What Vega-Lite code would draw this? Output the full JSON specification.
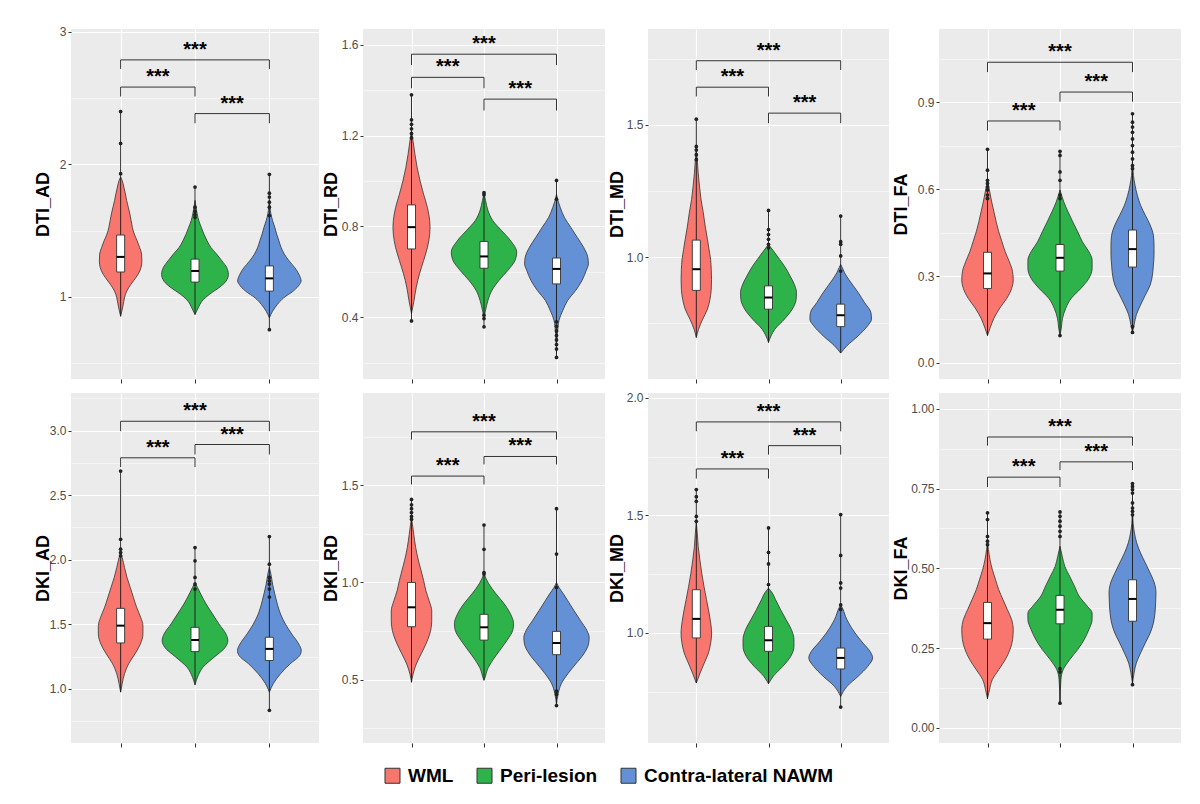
{
  "$schema": "https://vega.github.io/schema/vega-lite/v6.json",
  "background": "white",
  "padding": {"left": 34, "top": 25, "right": 5, "bottom": 5},
  "config": {
    "view": {"fill": "#EBEBEB", "stroke": null},
    "font": "Liberation Sans",
    "axis": {"domain": false, "gridColor": "white", "gridWidth": 1.1, "tickColor": "#333333", "tickSize": 3, "labelColor": "#4D4D4D", "labelFontSize": 12, "labelFont": "Liberation Sans", "labelPadding": 2, "titleFont": "Liberation Sans", "titleFontSize": 18, "titleFontWeight": "bold", "titleColor": "black", "titlePadding": 2},
    "axisX": {"tickSize": 4},
    "legend": {"orient": "bottom", "direction": "horizontal", "symbolType": "square", "symbolSize": 225, "symbolStrokeColor": "#333333", "symbolStrokeWidth": 1, "symbolOpacity": 1, "labelFontSize": 19, "labelFontWeight": "bold", "labelColor": "black", "labelFont": "Liberation Sans", "labelLimit": 0, "columnPadding": 21, "labelOffset": 6, "offset": 18, "layout": {"bottom": {"anchor": "middle"}}}
  },
  "data": {"values": [
    {"p":"DTI_AD","k":"v","c":"WML","y":0.853,"l":1,"r":1},
    {"p":"DTI_AD","k":"v","c":"WML","y":0.916,"l":0.974,"r":1.026},
    {"p":"DTI_AD","k":"v","c":"WML","y":0.967,"l":0.957,"r":1.043},
    {"p":"DTI_AD","k":"v","c":"WML","y":1.018,"l":0.936,"r":1.064},
    {"p":"DTI_AD","k":"v","c":"WML","y":1.068,"l":0.893,"r":1.107},
    {"p":"DTI_AD","k":"v","c":"WML","y":1.119,"l":0.829,"r":1.171},
    {"p":"DTI_AD","k":"v","c":"WML","y":1.17,"l":0.765,"r":1.235},
    {"p":"DTI_AD","k":"v","c":"WML","y":1.22,"l":0.726,"r":1.274},
    {"p":"DTI_AD","k":"v","c":"WML","y":1.271,"l":0.714,"r":1.286},
    {"p":"DTI_AD","k":"v","c":"WML","y":1.322,"l":0.718,"r":1.282},
    {"p":"DTI_AD","k":"v","c":"WML","y":1.372,"l":0.744,"r":1.256},
    {"p":"DTI_AD","k":"v","c":"WML","y":1.423,"l":0.778,"r":1.222},
    {"p":"DTI_AD","k":"v","c":"WML","y":1.473,"l":0.816,"r":1.184},
    {"p":"DTI_AD","k":"v","c":"WML","y":1.524,"l":0.842,"r":1.158},
    {"p":"DTI_AD","k":"v","c":"WML","y":1.575,"l":0.859,"r":1.141},
    {"p":"DTI_AD","k":"v","c":"WML","y":1.625,"l":0.876,"r":1.124},
    {"p":"DTI_AD","k":"v","c":"WML","y":1.676,"l":0.897,"r":1.103},
    {"p":"DTI_AD","k":"v","c":"WML","y":1.727,"l":0.919,"r":1.081},
    {"p":"DTI_AD","k":"v","c":"WML","y":1.777,"l":0.936,"r":1.064},
    {"p":"DTI_AD","k":"v","c":"WML","y":1.828,"l":0.957,"r":1.043},
    {"p":"DTI_AD","k":"v","c":"WML","y":1.878,"l":0.979,"r":1.021},
    {"p":"DTI_AD","k":"v","c":"WML","y":1.904,"l":1,"r":1},
    {"p":"DTI_AD","k":"v","c":"Peri-lesion","y":0.866,"l":2,"r":2},
    {"p":"DTI_AD","k":"v","c":"Peri-lesion","y":0.916,"l":1.957,"r":2.043},
    {"p":"DTI_AD","k":"v","c":"Peri-lesion","y":0.967,"l":1.906,"r":2.094},
    {"p":"DTI_AD","k":"v","c":"Peri-lesion","y":1.018,"l":1.808,"r":2.192},
    {"p":"DTI_AD","k":"v","c":"Peri-lesion","y":1.068,"l":1.679,"r":2.321},
    {"p":"DTI_AD","k":"v","c":"Peri-lesion","y":1.119,"l":1.581,"r":2.419},
    {"p":"DTI_AD","k":"v","c":"Peri-lesion","y":1.17,"l":1.551,"r":2.449},
    {"p":"DTI_AD","k":"v","c":"Peri-lesion","y":1.22,"l":1.573,"r":2.427},
    {"p":"DTI_AD","k":"v","c":"Peri-lesion","y":1.271,"l":1.637,"r":2.363},
    {"p":"DTI_AD","k":"v","c":"Peri-lesion","y":1.322,"l":1.709,"r":2.291},
    {"p":"DTI_AD","k":"v","c":"Peri-lesion","y":1.372,"l":1.786,"r":2.214},
    {"p":"DTI_AD","k":"v","c":"Peri-lesion","y":1.423,"l":1.838,"r":2.162},
    {"p":"DTI_AD","k":"v","c":"Peri-lesion","y":1.473,"l":1.88,"r":2.12},
    {"p":"DTI_AD","k":"v","c":"Peri-lesion","y":1.524,"l":1.915,"r":2.085},
    {"p":"DTI_AD","k":"v","c":"Peri-lesion","y":1.575,"l":1.949,"r":2.051},
    {"p":"DTI_AD","k":"v","c":"Peri-lesion","y":1.625,"l":1.97,"r":2.03},
    {"p":"DTI_AD","k":"v","c":"Peri-lesion","y":1.676,"l":1.987,"r":2.013},
    {"p":"DTI_AD","k":"v","c":"Peri-lesion","y":1.727,"l":2,"r":2},
    {"p":"DTI_AD","k":"v","c":"Contra-lateral NAWM","y":0.841,"l":3,"r":3},
    {"p":"DTI_AD","k":"v","c":"Contra-lateral NAWM","y":0.891,"l":2.957,"r":3.043},
    {"p":"DTI_AD","k":"v","c":"Contra-lateral NAWM","y":0.942,"l":2.893,"r":3.107},
    {"p":"DTI_AD","k":"v","c":"Contra-lateral NAWM","y":0.992,"l":2.808,"r":3.192},
    {"p":"DTI_AD","k":"v","c":"Contra-lateral NAWM","y":1.043,"l":2.679,"r":3.321},
    {"p":"DTI_AD","k":"v","c":"Contra-lateral NAWM","y":1.094,"l":2.594,"r":3.406},
    {"p":"DTI_AD","k":"v","c":"Contra-lateral NAWM","y":1.119,"l":2.573,"r":3.427},
    {"p":"DTI_AD","k":"v","c":"Contra-lateral NAWM","y":1.17,"l":2.603,"r":3.397},
    {"p":"DTI_AD","k":"v","c":"Contra-lateral NAWM","y":1.22,"l":2.658,"r":3.342},
    {"p":"DTI_AD","k":"v","c":"Contra-lateral NAWM","y":1.271,"l":2.735,"r":3.265},
    {"p":"DTI_AD","k":"v","c":"Contra-lateral NAWM","y":1.322,"l":2.799,"r":3.201},
    {"p":"DTI_AD","k":"v","c":"Contra-lateral NAWM","y":1.372,"l":2.842,"r":3.158},
    {"p":"DTI_AD","k":"v","c":"Contra-lateral NAWM","y":1.423,"l":2.872,"r":3.128},
    {"p":"DTI_AD","k":"v","c":"Contra-lateral NAWM","y":1.473,"l":2.902,"r":3.098},
    {"p":"DTI_AD","k":"v","c":"Contra-lateral NAWM","y":1.524,"l":2.927,"r":3.073},
    {"p":"DTI_AD","k":"v","c":"Contra-lateral NAWM","y":1.575,"l":2.957,"r":3.043},
    {"p":"DTI_AD","k":"v","c":"Contra-lateral NAWM","y":1.625,"l":2.979,"r":3.021},
    {"p":"DTI_AD","k":"v","c":"Contra-lateral NAWM","y":1.676,"l":2.991,"r":3.009},
    {"p":"DTI_AD","k":"v","c":"Contra-lateral NAWM","y":1.727,"l":3,"r":3},
    {"p":"DTI_AD","k":"w","x":1,"y":0.853,"y2":2.397},
    {"p":"DTI_AD","k":"w","x":2,"y":0.866,"y2":1.828},
    {"p":"DTI_AD","k":"w","x":3,"y":0.752,"y2":1.924},
    {"p":"DTI_AD","k":"b","x":1,"y":1.187,"y2":1.466},
    {"p":"DTI_AD","k":"b","x":2,"y":1.111,"y2":1.284},
    {"p":"DTI_AD","k":"b","x":3,"y":1.043,"y2":1.233},
    {"p":"DTI_AD","k":"m","x":1,"y":1.301},
    {"p":"DTI_AD","k":"m","x":2,"y":1.195},
    {"p":"DTI_AD","k":"m","x":3,"y":1.139},
    {"p":"DTI_AD","k":"o","x":1,"y":2.397},
    {"p":"DTI_AD","k":"o","x":1,"y":2.157},
    {"p":"DTI_AD","k":"o","x":1,"y":1.929},
    {"p":"DTI_AD","k":"o","x":2,"y":1.828},
    {"p":"DTI_AD","k":"o","x":2,"y":1.676},
    {"p":"DTI_AD","k":"o","x":2,"y":1.645},
    {"p":"DTI_AD","k":"o","x":2,"y":1.62},
    {"p":"DTI_AD","k":"o","x":2,"y":1.6},
    {"p":"DTI_AD","k":"o","x":3,"y":0.752},
    {"p":"DTI_AD","k":"o","x":3,"y":1.924},
    {"p":"DTI_AD","k":"o","x":3,"y":1.782},
    {"p":"DTI_AD","k":"o","x":3,"y":1.752},
    {"p":"DTI_AD","k":"o","x":3,"y":1.714},
    {"p":"DTI_AD","k":"o","x":3,"y":1.676},
    {"p":"DTI_AD","k":"o","x":3,"y":1.613},
    {"p":"DTI_AD","k":"h","x":1,"x2":3,"y":2.787},
    {"p":"DTI_AD","k":"t","x":1,"y":2.719,"y2":2.787},
    {"p":"DTI_AD","k":"t","x":3,"y":2.719,"y2":2.787},
    {"p":"DTI_AD","k":"s","x":2,"y":2.787,"lab":"***"},
    {"p":"DTI_AD","k":"h","x":1,"x2":2,"y":2.582},
    {"p":"DTI_AD","k":"t","x":1,"y":2.511,"y2":2.582},
    {"p":"DTI_AD","k":"t","x":2,"y":2.511,"y2":2.582},
    {"p":"DTI_AD","k":"s","x":1.5,"y":2.582,"lab":"***"},
    {"p":"DTI_AD","k":"h","x":2,"x2":3,"y":2.382},
    {"p":"DTI_AD","k":"t","x":2,"y":2.309,"y2":2.382},
    {"p":"DTI_AD","k":"t","x":3,"y":2.309,"y2":2.382},
    {"p":"DTI_AD","k":"s","x":2.5,"y":2.382,"lab":"***"},

    {"p":"DTI_RD","k":"v","c":"WML","y":0.416,"l":1,"r":1},
    {"p":"DTI_RD","k":"v","c":"WML","y":0.474,"l":0.965,"r":1.035},
    {"p":"DTI_RD","k":"v","c":"WML","y":0.533,"l":0.934,"r":1.066},
    {"p":"DTI_RD","k":"v","c":"WML","y":0.591,"l":0.89,"r":1.11},
    {"p":"DTI_RD","k":"v","c":"WML","y":0.65,"l":0.833,"r":1.167},
    {"p":"DTI_RD","k":"v","c":"WML","y":0.708,"l":0.78,"r":1.22},
    {"p":"DTI_RD","k":"v","c":"WML","y":0.766,"l":0.749,"r":1.251},
    {"p":"DTI_RD","k":"v","c":"WML","y":0.796,"l":0.744,"r":1.256},
    {"p":"DTI_RD","k":"v","c":"WML","y":0.825,"l":0.749,"r":1.251},
    {"p":"DTI_RD","k":"v","c":"WML","y":0.883,"l":0.78,"r":1.22},
    {"p":"DTI_RD","k":"v","c":"WML","y":0.942,"l":0.833,"r":1.167},
    {"p":"DTI_RD","k":"v","c":"WML","y":1.0,"l":0.881,"r":1.119},
    {"p":"DTI_RD","k":"v","c":"WML","y":1.058,"l":0.921,"r":1.079},
    {"p":"DTI_RD","k":"v","c":"WML","y":1.117,"l":0.952,"r":1.048},
    {"p":"DTI_RD","k":"v","c":"WML","y":1.175,"l":0.978,"r":1.022},
    {"p":"DTI_RD","k":"v","c":"WML","y":1.204,"l":0.991,"r":1.009},
    {"p":"DTI_RD","k":"v","c":"WML","y":1.219,"l":1,"r":1},
    {"p":"DTI_RD","k":"v","c":"Peri-lesion","y":0.4,"l":2,"r":2},
    {"p":"DTI_RD","k":"v","c":"Peri-lesion","y":0.432,"l":1.978,"r":2.022},
    {"p":"DTI_RD","k":"v","c":"Peri-lesion","y":0.475,"l":1.945,"r":2.055},
    {"p":"DTI_RD","k":"v","c":"Peri-lesion","y":0.519,"l":1.89,"r":2.11},
    {"p":"DTI_RD","k":"v","c":"Peri-lesion","y":0.563,"l":1.791,"r":2.209},
    {"p":"DTI_RD","k":"v","c":"Peri-lesion","y":0.607,"l":1.67,"r":2.33},
    {"p":"DTI_RD","k":"v","c":"Peri-lesion","y":0.651,"l":1.571,"r":2.429},
    {"p":"DTI_RD","k":"v","c":"Peri-lesion","y":0.687,"l":1.549,"r":2.451},
    {"p":"DTI_RD","k":"v","c":"Peri-lesion","y":0.739,"l":1.637,"r":2.363},
    {"p":"DTI_RD","k":"v","c":"Peri-lesion","y":0.782,"l":1.758,"r":2.242},
    {"p":"DTI_RD","k":"v","c":"Peri-lesion","y":0.826,"l":1.879,"r":2.121},
    {"p":"DTI_RD","k":"v","c":"Peri-lesion","y":0.87,"l":1.945,"r":2.055},
    {"p":"DTI_RD","k":"v","c":"Peri-lesion","y":0.914,"l":1.978,"r":2.022},
    {"p":"DTI_RD","k":"v","c":"Peri-lesion","y":0.945,"l":2,"r":2},
    {"p":"DTI_RD","k":"v","c":"Contra-lateral NAWM","y":0.241,"l":3,"r":3},
    {"p":"DTI_RD","k":"v","c":"Contra-lateral NAWM","y":0.328,"l":2.987,"r":3.013},
    {"p":"DTI_RD","k":"v","c":"Contra-lateral NAWM","y":0.387,"l":2.965,"r":3.035},
    {"p":"DTI_RD","k":"v","c":"Contra-lateral NAWM","y":0.431,"l":2.912,"r":3.088},
    {"p":"DTI_RD","k":"v","c":"Contra-lateral NAWM","y":0.474,"l":2.846,"r":3.154},
    {"p":"DTI_RD","k":"v","c":"Contra-lateral NAWM","y":0.518,"l":2.736,"r":3.264},
    {"p":"DTI_RD","k":"v","c":"Contra-lateral NAWM","y":0.562,"l":2.648,"r":3.352},
    {"p":"DTI_RD","k":"v","c":"Contra-lateral NAWM","y":0.606,"l":2.59,"r":3.41},
    {"p":"DTI_RD","k":"v","c":"Contra-lateral NAWM","y":0.635,"l":2.56,"r":3.44},
    {"p":"DTI_RD","k":"v","c":"Contra-lateral NAWM","y":0.664,"l":2.568,"r":3.432},
    {"p":"DTI_RD","k":"v","c":"Contra-lateral NAWM","y":0.708,"l":2.626,"r":3.374},
    {"p":"DTI_RD","k":"v","c":"Contra-lateral NAWM","y":0.752,"l":2.714,"r":3.286},
    {"p":"DTI_RD","k":"v","c":"Contra-lateral NAWM","y":0.796,"l":2.802,"r":3.198},
    {"p":"DTI_RD","k":"v","c":"Contra-lateral NAWM","y":0.839,"l":2.89,"r":3.11},
    {"p":"DTI_RD","k":"v","c":"Contra-lateral NAWM","y":0.883,"l":2.947,"r":3.053},
    {"p":"DTI_RD","k":"v","c":"Contra-lateral NAWM","y":0.912,"l":2.978,"r":3.022},
    {"p":"DTI_RD","k":"v","c":"Contra-lateral NAWM","y":0.942,"l":3,"r":3},
    {"p":"DTI_RD","k":"w","x":1,"y":0.384,"y2":1.38},
    {"p":"DTI_RD","k":"w","x":2,"y":0.358,"y2":0.949},
    {"p":"DTI_RD","k":"w","x":3,"y":0.223,"y2":1.003},
    {"p":"DTI_RD","k":"b","x":1,"y":0.701,"y2":0.895},
    {"p":"DTI_RD","k":"b","x":2,"y":0.616,"y2":0.734},
    {"p":"DTI_RD","k":"b","x":3,"y":0.547,"y2":0.661},
    {"p":"DTI_RD","k":"m","x":1,"y":0.797},
    {"p":"DTI_RD","k":"m","x":2,"y":0.668},
    {"p":"DTI_RD","k":"m","x":3,"y":0.613},
    {"p":"DTI_RD","k":"o","x":1,"y":1.38},
    {"p":"DTI_RD","k":"o","x":1,"y":1.27},
    {"p":"DTI_RD","k":"o","x":1,"y":1.25},
    {"p":"DTI_RD","k":"o","x":1,"y":1.23},
    {"p":"DTI_RD","k":"o","x":1,"y":1.21},
    {"p":"DTI_RD","k":"o","x":1,"y":1.19},
    {"p":"DTI_RD","k":"o","x":1,"y":0.384},
    {"p":"DTI_RD","k":"o","x":2,"y":0.949},
    {"p":"DTI_RD","k":"o","x":2,"y":0.94},
    {"p":"DTI_RD","k":"o","x":2,"y":0.409},
    {"p":"DTI_RD","k":"o","x":2,"y":0.394},
    {"p":"DTI_RD","k":"o","x":2,"y":0.358},
    {"p":"DTI_RD","k":"o","x":3,"y":1.003},
    {"p":"DTI_RD","k":"o","x":3,"y":0.92},
    {"p":"DTI_RD","k":"o","x":3,"y":0.38},
    {"p":"DTI_RD","k":"o","x":3,"y":0.36},
    {"p":"DTI_RD","k":"o","x":3,"y":0.34},
    {"p":"DTI_RD","k":"o","x":3,"y":0.32},
    {"p":"DTI_RD","k":"o","x":3,"y":0.3},
    {"p":"DTI_RD","k":"o","x":3,"y":0.28},
    {"p":"DTI_RD","k":"o","x":3,"y":0.26},
    {"p":"DTI_RD","k":"o","x":3,"y":0.223},
    {"p":"DTI_RD","k":"h","x":1,"x2":3,"y":1.559},
    {"p":"DTI_RD","k":"t","x":1,"y":1.511,"y2":1.559},
    {"p":"DTI_RD","k":"t","x":3,"y":1.511,"y2":1.559},
    {"p":"DTI_RD","k":"s","x":2,"y":1.559,"lab":"***"},
    {"p":"DTI_RD","k":"h","x":1,"x2":2,"y":1.457},
    {"p":"DTI_RD","k":"t","x":1,"y":1.409,"y2":1.457},
    {"p":"DTI_RD","k":"t","x":2,"y":1.409,"y2":1.457},
    {"p":"DTI_RD","k":"s","x":1.5,"y":1.457,"lab":"***"},
    {"p":"DTI_RD","k":"h","x":2,"x2":3,"y":1.361},
    {"p":"DTI_RD","k":"t","x":2,"y":1.311,"y2":1.361},
    {"p":"DTI_RD","k":"t","x":3,"y":1.311,"y2":1.361},
    {"p":"DTI_RD","k":"s","x":2.5,"y":1.361,"lab":"***"},

    {"p":"DTI_MD","k":"v","c":"WML","y":0.696,"l":1,"r":1},
    {"p":"DTI_MD","k":"v","c":"WML","y":0.727,"l":0.969,"r":1.031},
    {"p":"DTI_MD","k":"v","c":"WML","y":0.765,"l":0.912,"r":1.088},
    {"p":"DTI_MD","k":"v","c":"WML","y":0.803,"l":0.846,"r":1.154},
    {"p":"DTI_MD","k":"v","c":"WML","y":0.84,"l":0.811,"r":1.189},
    {"p":"DTI_MD","k":"v","c":"WML","y":0.878,"l":0.793,"r":1.207},
    {"p":"DTI_MD","k":"v","c":"WML","y":0.916,"l":0.789,"r":1.211},
    {"p":"DTI_MD","k":"v","c":"WML","y":0.954,"l":0.793,"r":1.207},
    {"p":"DTI_MD","k":"v","c":"WML","y":0.991,"l":0.802,"r":1.198},
    {"p":"DTI_MD","k":"v","c":"WML","y":1.029,"l":0.824,"r":1.176},
    {"p":"DTI_MD","k":"v","c":"WML","y":1.067,"l":0.846,"r":1.154},
    {"p":"DTI_MD","k":"v","c":"WML","y":1.117,"l":0.877,"r":1.123},
    {"p":"DTI_MD","k":"v","c":"WML","y":1.167,"l":0.903,"r":1.097},
    {"p":"DTI_MD","k":"v","c":"WML","y":1.217,"l":0.934,"r":1.066},
    {"p":"DTI_MD","k":"v","c":"WML","y":1.268,"l":0.956,"r":1.044},
    {"p":"DTI_MD","k":"v","c":"WML","y":1.318,"l":0.974,"r":1.026},
    {"p":"DTI_MD","k":"v","c":"WML","y":1.368,"l":0.987,"r":1.013},
    {"p":"DTI_MD","k":"v","c":"WML","y":1.406,"l":1,"r":1},
    {"p":"DTI_MD","k":"v","c":"Peri-lesion","y":0.677,"l":2,"r":2},
    {"p":"DTI_MD","k":"v","c":"Peri-lesion","y":0.702,"l":1.965,"r":2.035},
    {"p":"DTI_MD","k":"v","c":"Peri-lesion","y":0.727,"l":1.912,"r":2.088},
    {"p":"DTI_MD","k":"v","c":"Peri-lesion","y":0.765,"l":1.78,"r":2.22},
    {"p":"DTI_MD","k":"v","c":"Peri-lesion","y":0.803,"l":1.67,"r":2.33},
    {"p":"DTI_MD","k":"v","c":"Peri-lesion","y":0.84,"l":1.617,"r":2.383},
    {"p":"DTI_MD","k":"v","c":"Peri-lesion","y":0.866,"l":1.612,"r":2.388},
    {"p":"DTI_MD","k":"v","c":"Peri-lesion","y":0.891,"l":1.634,"r":2.366},
    {"p":"DTI_MD","k":"v","c":"Peri-lesion","y":0.928,"l":1.7,"r":2.3},
    {"p":"DTI_MD","k":"v","c":"Peri-lesion","y":0.966,"l":1.78,"r":2.22},
    {"p":"DTI_MD","k":"v","c":"Peri-lesion","y":0.991,"l":1.846,"r":2.154},
    {"p":"DTI_MD","k":"v","c":"Peri-lesion","y":1.016,"l":1.912,"r":2.088},
    {"p":"DTI_MD","k":"v","c":"Peri-lesion","y":1.035,"l":1.965,"r":2.035},
    {"p":"DTI_MD","k":"v","c":"Peri-lesion","y":1.048,"l":2,"r":2},
    {"p":"DTI_MD","k":"v","c":"Contra-lateral NAWM","y":0.637,"l":3,"r":3},
    {"p":"DTI_MD","k":"v","c":"Contra-lateral NAWM","y":0.665,"l":2.912,"r":3.088},
    {"p":"DTI_MD","k":"v","c":"Contra-lateral NAWM","y":0.702,"l":2.758,"r":3.242},
    {"p":"DTI_MD","k":"v","c":"Contra-lateral NAWM","y":0.74,"l":2.626,"r":3.374},
    {"p":"DTI_MD","k":"v","c":"Contra-lateral NAWM","y":0.765,"l":2.573,"r":3.427},
    {"p":"DTI_MD","k":"v","c":"Contra-lateral NAWM","y":0.79,"l":2.581,"r":3.419},
    {"p":"DTI_MD","k":"v","c":"Contra-lateral NAWM","y":0.828,"l":2.67,"r":3.33},
    {"p":"DTI_MD","k":"v","c":"Contra-lateral NAWM","y":0.866,"l":2.758,"r":3.242},
    {"p":"DTI_MD","k":"v","c":"Contra-lateral NAWM","y":0.891,"l":2.824,"r":3.176},
    {"p":"DTI_MD","k":"v","c":"Contra-lateral NAWM","y":0.916,"l":2.89,"r":3.11},
    {"p":"DTI_MD","k":"v","c":"Contra-lateral NAWM","y":0.941,"l":2.947,"r":3.053},
    {"p":"DTI_MD","k":"v","c":"Contra-lateral NAWM","y":0.96,"l":2.978,"r":3.022},
    {"p":"DTI_MD","k":"v","c":"Contra-lateral NAWM","y":0.972,"l":3,"r":3},
    {"p":"DTI_MD","k":"w","x":1,"y":0.696,"y2":1.521},
    {"p":"DTI_MD","k":"w","x":2,"y":0.677,"y2":1.176},
    {"p":"DTI_MD","k":"w","x":3,"y":0.637,"y2":1.155},
    {"p":"DTI_MD","k":"b","x":1,"y":0.874,"y2":1.064},
    {"p":"DTI_MD","k":"b","x":2,"y":0.803,"y2":0.891},
    {"p":"DTI_MD","k":"b","x":3,"y":0.737,"y2":0.822},
    {"p":"DTI_MD","k":"m","x":1,"y":0.954},
    {"p":"DTI_MD","k":"m","x":2,"y":0.847},
    {"p":"DTI_MD","k":"m","x":3,"y":0.78},
    {"p":"DTI_MD","k":"o","x":1,"y":1.521},
    {"p":"DTI_MD","k":"o","x":1,"y":1.418},
    {"p":"DTI_MD","k":"o","x":1,"y":1.405},
    {"p":"DTI_MD","k":"o","x":1,"y":1.387},
    {"p":"DTI_MD","k":"o","x":1,"y":1.368},
    {"p":"DTI_MD","k":"o","x":2,"y":1.176},
    {"p":"DTI_MD","k":"o","x":2,"y":1.104},
    {"p":"DTI_MD","k":"o","x":2,"y":1.085},
    {"p":"DTI_MD","k":"o","x":2,"y":1.067},
    {"p":"DTI_MD","k":"o","x":2,"y":1.048},
    {"p":"DTI_MD","k":"o","x":2,"y":1.035},
    {"p":"DTI_MD","k":"o","x":3,"y":1.155},
    {"p":"DTI_MD","k":"o","x":3,"y":1.058},
    {"p":"DTI_MD","k":"o","x":3,"y":1.048},
    {"p":"DTI_MD","k":"o","x":3,"y":1.004},
    {"p":"DTI_MD","k":"o","x":3,"y":0.947},
    {"p":"DTI_MD","k":"h","x":1,"x2":3,"y":1.742},
    {"p":"DTI_MD","k":"t","x":1,"y":1.707,"y2":1.742},
    {"p":"DTI_MD","k":"t","x":3,"y":1.707,"y2":1.742},
    {"p":"DTI_MD","k":"s","x":2,"y":1.742,"lab":"***"},
    {"p":"DTI_MD","k":"h","x":1,"x2":2,"y":1.642},
    {"p":"DTI_MD","k":"t","x":1,"y":1.607,"y2":1.642},
    {"p":"DTI_MD","k":"t","x":2,"y":1.607,"y2":1.642},
    {"p":"DTI_MD","k":"s","x":1.5,"y":1.642,"lab":"***"},
    {"p":"DTI_MD","k":"h","x":2,"x2":3,"y":1.544},
    {"p":"DTI_MD","k":"t","x":2,"y":1.506,"y2":1.544},
    {"p":"DTI_MD","k":"t","x":3,"y":1.506,"y2":1.544},
    {"p":"DTI_MD","k":"s","x":2.5,"y":1.544,"lab":"***"},

    {"p":"DTI_FA","k":"v","c":"WML","y":0.094,"l":1,"r":1},
    {"p":"DTI_FA","k":"v","c":"WML","y":0.12,"l":0.965,"r":1.035},
    {"p":"DTI_FA","k":"v","c":"WML","y":0.154,"l":0.911,"r":1.089},
    {"p":"DTI_FA","k":"v","c":"WML","y":0.189,"l":0.831,"r":1.169},
    {"p":"DTI_FA","k":"v","c":"WML","y":0.223,"l":0.734,"r":1.266},
    {"p":"DTI_FA","k":"v","c":"WML","y":0.257,"l":0.667,"r":1.333},
    {"p":"DTI_FA","k":"v","c":"WML","y":0.286,"l":0.645,"r":1.355},
    {"p":"DTI_FA","k":"v","c":"WML","y":0.315,"l":0.654,"r":1.346},
    {"p":"DTI_FA","k":"v","c":"WML","y":0.349,"l":0.698,"r":1.302},
    {"p":"DTI_FA","k":"v","c":"WML","y":0.384,"l":0.756,"r":1.244},
    {"p":"DTI_FA","k":"v","c":"WML","y":0.418,"l":0.8,"r":1.2},
    {"p":"DTI_FA","k":"v","c":"WML","y":0.453,"l":0.845,"r":1.155},
    {"p":"DTI_FA","k":"v","c":"WML","y":0.487,"l":0.88,"r":1.12},
    {"p":"DTI_FA","k":"v","c":"WML","y":0.522,"l":0.911,"r":1.089},
    {"p":"DTI_FA","k":"v","c":"WML","y":0.556,"l":0.942,"r":1.058},
    {"p":"DTI_FA","k":"v","c":"WML","y":0.591,"l":0.969,"r":1.031},
    {"p":"DTI_FA","k":"v","c":"WML","y":0.614,"l":0.987,"r":1.013},
    {"p":"DTI_FA","k":"v","c":"WML","y":0.631,"l":1,"r":1},
    {"p":"DTI_FA","k":"v","c":"Peri-lesion","y":0.094,"l":2,"r":2},
    {"p":"DTI_FA","k":"v","c":"Peri-lesion","y":0.12,"l":1.982,"r":2.018},
    {"p":"DTI_FA","k":"v","c":"Peri-lesion","y":0.154,"l":1.965,"r":2.035},
    {"p":"DTI_FA","k":"v","c":"Peri-lesion","y":0.189,"l":1.92,"r":2.08},
    {"p":"DTI_FA","k":"v","c":"Peri-lesion","y":0.223,"l":1.845,"r":2.155},
    {"p":"DTI_FA","k":"v","c":"Peri-lesion","y":0.257,"l":1.712,"r":2.288},
    {"p":"DTI_FA","k":"v","c":"Peri-lesion","y":0.292,"l":1.601,"r":2.399},
    {"p":"DTI_FA","k":"v","c":"Peri-lesion","y":0.326,"l":1.557,"r":2.443},
    {"p":"DTI_FA","k":"v","c":"Peri-lesion","y":0.355,"l":1.557,"r":2.443},
    {"p":"DTI_FA","k":"v","c":"Peri-lesion","y":0.384,"l":1.601,"r":2.399},
    {"p":"DTI_FA","k":"v","c":"Peri-lesion","y":0.418,"l":1.69,"r":2.31},
    {"p":"DTI_FA","k":"v","c":"Peri-lesion","y":0.453,"l":1.756,"r":2.244},
    {"p":"DTI_FA","k":"v","c":"Peri-lesion","y":0.487,"l":1.823,"r":2.177},
    {"p":"DTI_FA","k":"v","c":"Peri-lesion","y":0.522,"l":1.889,"r":2.111},
    {"p":"DTI_FA","k":"v","c":"Peri-lesion","y":0.556,"l":1.947,"r":2.053},
    {"p":"DTI_FA","k":"v","c":"Peri-lesion","y":0.579,"l":1.978,"r":2.022},
    {"p":"DTI_FA","k":"v","c":"Peri-lesion","y":0.597,"l":2,"r":2},
    {"p":"DTI_FA","k":"v","c":"Contra-lateral NAWM","y":0.105,"l":3,"r":3},
    {"p":"DTI_FA","k":"v","c":"Contra-lateral NAWM","y":0.131,"l":2.978,"r":3.022},
    {"p":"DTI_FA","k":"v","c":"Contra-lateral NAWM","y":0.166,"l":2.947,"r":3.053},
    {"p":"DTI_FA","k":"v","c":"Contra-lateral NAWM","y":0.2,"l":2.889,"r":3.111},
    {"p":"DTI_FA","k":"v","c":"Contra-lateral NAWM","y":0.234,"l":2.823,"r":3.177},
    {"p":"DTI_FA","k":"v","c":"Contra-lateral NAWM","y":0.269,"l":2.756,"r":3.244},
    {"p":"DTI_FA","k":"v","c":"Contra-lateral NAWM","y":0.303,"l":2.725,"r":3.275},
    {"p":"DTI_FA","k":"v","c":"Contra-lateral NAWM","y":0.338,"l":2.712,"r":3.288},
    {"p":"DTI_FA","k":"v","c":"Contra-lateral NAWM","y":0.372,"l":2.703,"r":3.297},
    {"p":"DTI_FA","k":"v","c":"Contra-lateral NAWM","y":0.407,"l":2.703,"r":3.297},
    {"p":"DTI_FA","k":"v","c":"Contra-lateral NAWM","y":0.441,"l":2.712,"r":3.288},
    {"p":"DTI_FA","k":"v","c":"Contra-lateral NAWM","y":0.476,"l":2.756,"r":3.244},
    {"p":"DTI_FA","k":"v","c":"Contra-lateral NAWM","y":0.51,"l":2.823,"r":3.177},
    {"p":"DTI_FA","k":"v","c":"Contra-lateral NAWM","y":0.545,"l":2.889,"r":3.111},
    {"p":"DTI_FA","k":"v","c":"Contra-lateral NAWM","y":0.579,"l":2.933,"r":3.067},
    {"p":"DTI_FA","k":"v","c":"Contra-lateral NAWM","y":0.614,"l":2.965,"r":3.035},
    {"p":"DTI_FA","k":"v","c":"Contra-lateral NAWM","y":0.648,"l":2.987,"r":3.013},
    {"p":"DTI_FA","k":"v","c":"Contra-lateral NAWM","y":0.68,"l":2.995,"r":3.005},
    {"p":"DTI_FA","k":"v","c":"Contra-lateral NAWM","y":0.7,"l":3,"r":3},
    {"p":"DTI_FA","k":"w","x":1,"y":0.094,"y2":0.738},
    {"p":"DTI_FA","k":"w","x":2,"y":0.094,"y2":0.731},
    {"p":"DTI_FA","k":"w","x":3,"y":0.105,"y2":0.861},
    {"p":"DTI_FA","k":"b","x":1,"y":0.257,"y2":0.382},
    {"p":"DTI_FA","k":"b","x":2,"y":0.317,"y2":0.409},
    {"p":"DTI_FA","k":"b","x":3,"y":0.331,"y2":0.459},
    {"p":"DTI_FA","k":"m","x":1,"y":0.309},
    {"p":"DTI_FA","k":"m","x":2,"y":0.363},
    {"p":"DTI_FA","k":"m","x":3,"y":0.393},
    {"p":"DTI_FA","k":"o","x":1,"y":0.738},
    {"p":"DTI_FA","k":"o","x":1,"y":0.666},
    {"p":"DTI_FA","k":"o","x":1,"y":0.631},
    {"p":"DTI_FA","k":"o","x":1,"y":0.62},
    {"p":"DTI_FA","k":"o","x":1,"y":0.608},
    {"p":"DTI_FA","k":"o","x":1,"y":0.597},
    {"p":"DTI_FA","k":"o","x":1,"y":0.58},
    {"p":"DTI_FA","k":"o","x":1,"y":0.568},
    {"p":"DTI_FA","k":"o","x":2,"y":0.731},
    {"p":"DTI_FA","k":"o","x":2,"y":0.717},
    {"p":"DTI_FA","k":"o","x":2,"y":0.66},
    {"p":"DTI_FA","k":"o","x":2,"y":0.631},
    {"p":"DTI_FA","k":"o","x":2,"y":0.58},
    {"p":"DTI_FA","k":"o","x":2,"y":0.568},
    {"p":"DTI_FA","k":"o","x":2,"y":0.094},
    {"p":"DTI_FA","k":"o","x":3,"y":0.861},
    {"p":"DTI_FA","k":"o","x":3,"y":0.832},
    {"p":"DTI_FA","k":"o","x":3,"y":0.815},
    {"p":"DTI_FA","k":"o","x":3,"y":0.797},
    {"p":"DTI_FA","k":"o","x":3,"y":0.774},
    {"p":"DTI_FA","k":"o","x":3,"y":0.751},
    {"p":"DTI_FA","k":"o","x":3,"y":0.728},
    {"p":"DTI_FA","k":"o","x":3,"y":0.705},
    {"p":"DTI_FA","k":"o","x":3,"y":0.682},
    {"p":"DTI_FA","k":"o","x":3,"y":0.671},
    {"p":"DTI_FA","k":"o","x":3,"y":0.125},
    {"p":"DTI_FA","k":"o","x":3,"y":0.105},
    {"p":"DTI_FA","k":"h","x":1,"x2":3,"y":1.039},
    {"p":"DTI_FA","k":"t","x":1,"y":1.005,"y2":1.039},
    {"p":"DTI_FA","k":"t","x":3,"y":1.005,"y2":1.039},
    {"p":"DTI_FA","k":"s","x":2,"y":1.039,"lab":"***"},
    {"p":"DTI_FA","k":"h","x":2,"x2":3,"y":0.936},
    {"p":"DTI_FA","k":"t","x":2,"y":0.903,"y2":0.936},
    {"p":"DTI_FA","k":"t","x":3,"y":0.903,"y2":0.936},
    {"p":"DTI_FA","k":"s","x":2.5,"y":0.936,"lab":"***"},
    {"p":"DTI_FA","k":"h","x":1,"x2":2,"y":0.836},
    {"p":"DTI_FA","k":"t","x":1,"y":0.803,"y2":0.836},
    {"p":"DTI_FA","k":"t","x":2,"y":0.803,"y2":0.836},
    {"p":"DTI_FA","k":"s","x":1.5,"y":0.836,"lab":"***"},

    {"p":"DKI_AD","k":"v","c":"WML","y":0.974,"l":1,"r":1},
    {"p":"DKI_AD","k":"v","c":"WML","y":1.039,"l":0.979,"r":1.021},
    {"p":"DKI_AD","k":"v","c":"WML","y":1.116,"l":0.948,"r":1.052},
    {"p":"DKI_AD","k":"v","c":"WML","y":1.193,"l":0.893,"r":1.107},
    {"p":"DKI_AD","k":"v","c":"WML","y":1.27,"l":0.807,"r":1.193},
    {"p":"DKI_AD","k":"v","c":"WML","y":1.347,"l":0.734,"r":1.266},
    {"p":"DKI_AD","k":"v","c":"WML","y":1.425,"l":0.7,"r":1.3},
    {"p":"DKI_AD","k":"v","c":"WML","y":1.489,"l":0.7,"r":1.3},
    {"p":"DKI_AD","k":"v","c":"WML","y":1.553,"l":0.73,"r":1.27},
    {"p":"DKI_AD","k":"v","c":"WML","y":1.631,"l":0.785,"r":1.215},
    {"p":"DKI_AD","k":"v","c":"WML","y":1.708,"l":0.828,"r":1.172},
    {"p":"DKI_AD","k":"v","c":"WML","y":1.785,"l":0.871,"r":1.129},
    {"p":"DKI_AD","k":"v","c":"WML","y":1.862,"l":0.914,"r":1.086},
    {"p":"DKI_AD","k":"v","c":"WML","y":1.94,"l":0.948,"r":1.052},
    {"p":"DKI_AD","k":"v","c":"WML","y":2.017,"l":0.979,"r":1.021},
    {"p":"DKI_AD","k":"v","c":"WML","y":2.055,"l":1,"r":1},
    {"p":"DKI_AD","k":"v","c":"Peri-lesion","y":1.031,"l":2,"r":2},
    {"p":"DKI_AD","k":"v","c":"Peri-lesion","y":1.09,"l":1.966,"r":2.034},
    {"p":"DKI_AD","k":"v","c":"Peri-lesion","y":1.167,"l":1.893,"r":2.107},
    {"p":"DKI_AD","k":"v","c":"Peri-lesion","y":1.245,"l":1.742,"r":2.258},
    {"p":"DKI_AD","k":"v","c":"Peri-lesion","y":1.322,"l":1.592,"r":2.408},
    {"p":"DKI_AD","k":"v","c":"Peri-lesion","y":1.373,"l":1.558,"r":2.442},
    {"p":"DKI_AD","k":"v","c":"Peri-lesion","y":1.425,"l":1.584,"r":2.416},
    {"p":"DKI_AD","k":"v","c":"Peri-lesion","y":1.502,"l":1.678,"r":2.322},
    {"p":"DKI_AD","k":"v","c":"Peri-lesion","y":1.579,"l":1.764,"r":2.236},
    {"p":"DKI_AD","k":"v","c":"Peri-lesion","y":1.656,"l":1.85,"r":2.15},
    {"p":"DKI_AD","k":"v","c":"Peri-lesion","y":1.734,"l":1.923,"r":2.077},
    {"p":"DKI_AD","k":"v","c":"Peri-lesion","y":1.785,"l":1.966,"r":2.034},
    {"p":"DKI_AD","k":"v","c":"Peri-lesion","y":1.824,"l":2,"r":2},
    {"p":"DKI_AD","k":"v","c":"Contra-lateral NAWM","y":0.974,"l":3,"r":3},
    {"p":"DKI_AD","k":"v","c":"Contra-lateral NAWM","y":1.039,"l":2.948,"r":3.052},
    {"p":"DKI_AD","k":"v","c":"Contra-lateral NAWM","y":1.116,"l":2.85,"r":3.15},
    {"p":"DKI_AD","k":"v","c":"Contra-lateral NAWM","y":1.193,"l":2.721,"r":3.279},
    {"p":"DKI_AD","k":"v","c":"Contra-lateral NAWM","y":1.257,"l":2.592,"r":3.408},
    {"p":"DKI_AD","k":"v","c":"Contra-lateral NAWM","y":1.296,"l":2.571,"r":3.429},
    {"p":"DKI_AD","k":"v","c":"Contra-lateral NAWM","y":1.347,"l":2.605,"r":3.395},
    {"p":"DKI_AD","k":"v","c":"Contra-lateral NAWM","y":1.425,"l":2.7,"r":3.3},
    {"p":"DKI_AD","k":"v","c":"Contra-lateral NAWM","y":1.502,"l":2.785,"r":3.215},
    {"p":"DKI_AD","k":"v","c":"Contra-lateral NAWM","y":1.579,"l":2.85,"r":3.15},
    {"p":"DKI_AD","k":"v","c":"Contra-lateral NAWM","y":1.656,"l":2.893,"r":3.107},
    {"p":"DKI_AD","k":"v","c":"Contra-lateral NAWM","y":1.734,"l":2.927,"r":3.073},
    {"p":"DKI_AD","k":"v","c":"Contra-lateral NAWM","y":1.811,"l":2.957,"r":3.043},
    {"p":"DKI_AD","k":"v","c":"Contra-lateral NAWM","y":1.888,"l":2.979,"r":3.021},
    {"p":"DKI_AD","k":"v","c":"Contra-lateral NAWM","y":1.94,"l":3,"r":3},
    {"p":"DKI_AD","k":"w","x":1,"y":0.974,"y2":2.686},
    {"p":"DKI_AD","k":"w","x":2,"y":1.031,"y2":2.094},
    {"p":"DKI_AD","k":"w","x":3,"y":0.833,"y2":2.179},
    {"p":"DKI_AD","k":"b","x":1,"y":1.355,"y2":1.623},
    {"p":"DKI_AD","k":"b","x":2,"y":1.288,"y2":1.476},
    {"p":"DKI_AD","k":"b","x":3,"y":1.219,"y2":1.399},
    {"p":"DKI_AD","k":"m","x":1,"y":1.489},
    {"p":"DKI_AD","k":"m","x":2,"y":1.378},
    {"p":"DKI_AD","k":"m","x":3,"y":1.309},
    {"p":"DKI_AD","k":"o","x":1,"y":2.686},
    {"p":"DKI_AD","k":"o","x":1,"y":2.158},
    {"p":"DKI_AD","k":"o","x":1,"y":2.081},
    {"p":"DKI_AD","k":"o","x":1,"y":2.055},
    {"p":"DKI_AD","k":"o","x":1,"y":2.03},
    {"p":"DKI_AD","k":"o","x":2,"y":2.094},
    {"p":"DKI_AD","k":"o","x":2,"y":1.991},
    {"p":"DKI_AD","k":"o","x":2,"y":1.862},
    {"p":"DKI_AD","k":"o","x":2,"y":1.811},
    {"p":"DKI_AD","k":"o","x":2,"y":1.772},
    {"p":"DKI_AD","k":"o","x":3,"y":0.833},
    {"p":"DKI_AD","k":"o","x":3,"y":2.179},
    {"p":"DKI_AD","k":"o","x":3,"y":1.965},
    {"p":"DKI_AD","k":"o","x":3,"y":1.862},
    {"p":"DKI_AD","k":"o","x":3,"y":1.836},
    {"p":"DKI_AD","k":"o","x":3,"y":1.811},
    {"p":"DKI_AD","k":"o","x":3,"y":1.772},
    {"p":"DKI_AD","k":"o","x":3,"y":1.71},
    {"p":"DKI_AD","k":"h","x":1,"x2":3,"y":3.072},
    {"p":"DKI_AD","k":"t","x":1,"y":2.995,"y2":3.072},
    {"p":"DKI_AD","k":"t","x":3,"y":2.995,"y2":3.072},
    {"p":"DKI_AD","k":"s","x":2,"y":3.072,"lab":"***"},
    {"p":"DKI_AD","k":"h","x":2,"x2":3,"y":2.892},
    {"p":"DKI_AD","k":"t","x":2,"y":2.815,"y2":2.892},
    {"p":"DKI_AD","k":"t","x":3,"y":2.815,"y2":2.892},
    {"p":"DKI_AD","k":"s","x":2.5,"y":2.892,"lab":"***"},
    {"p":"DKI_AD","k":"h","x":1,"x2":2,"y":2.789},
    {"p":"DKI_AD","k":"t","x":1,"y":2.717,"y2":2.789},
    {"p":"DKI_AD","k":"t","x":2,"y":2.717,"y2":2.789},
    {"p":"DKI_AD","k":"s","x":1.5,"y":2.789,"lab":"***"},

    {"p":"DKI_RD","k":"v","c":"WML","y":0.486,"l":1,"r":1},
    {"p":"DKI_RD","k":"v","c":"WML","y":0.529,"l":0.978,"r":1.022},
    {"p":"DKI_RD","k":"v","c":"WML","y":0.58,"l":0.934,"r":1.066},
    {"p":"DKI_RD","k":"v","c":"WML","y":0.632,"l":0.867,"r":1.133},
    {"p":"DKI_RD","k":"v","c":"WML","y":0.683,"l":0.801,"r":1.199},
    {"p":"DKI_RD","k":"v","c":"WML","y":0.735,"l":0.748,"r":1.252},
    {"p":"DKI_RD","k":"v","c":"WML","y":0.803,"l":0.721,"r":1.279},
    {"p":"DKI_RD","k":"v","c":"WML","y":0.854,"l":0.721,"r":1.279},
    {"p":"DKI_RD","k":"v","c":"WML","y":0.906,"l":0.757,"r":1.243},
    {"p":"DKI_RD","k":"v","c":"WML","y":0.957,"l":0.801,"r":1.199},
    {"p":"DKI_RD","k":"v","c":"WML","y":1.009,"l":0.832,"r":1.168},
    {"p":"DKI_RD","k":"v","c":"WML","y":1.06,"l":0.867,"r":1.133},
    {"p":"DKI_RD","k":"v","c":"WML","y":1.111,"l":0.903,"r":1.097},
    {"p":"DKI_RD","k":"v","c":"WML","y":1.18,"l":0.942,"r":1.058},
    {"p":"DKI_RD","k":"v","c":"WML","y":1.248,"l":0.969,"r":1.031},
    {"p":"DKI_RD","k":"v","c":"WML","y":1.3,"l":0.987,"r":1.013},
    {"p":"DKI_RD","k":"v","c":"WML","y":1.334,"l":1,"r":1},
    {"p":"DKI_RD","k":"v","c":"Peri-lesion","y":0.497,"l":2,"r":2},
    {"p":"DKI_RD","k":"v","c":"Peri-lesion","y":0.514,"l":1.982,"r":2.018},
    {"p":"DKI_RD","k":"v","c":"Peri-lesion","y":0.549,"l":1.956,"r":2.044},
    {"p":"DKI_RD","k":"v","c":"Peri-lesion","y":0.6,"l":1.879,"r":2.121},
    {"p":"DKI_RD","k":"v","c":"Peri-lesion","y":0.651,"l":1.78,"r":2.22},
    {"p":"DKI_RD","k":"v","c":"Peri-lesion","y":0.703,"l":1.68,"r":2.32},
    {"p":"DKI_RD","k":"v","c":"Peri-lesion","y":0.754,"l":1.603,"r":2.397},
    {"p":"DKI_RD","k":"v","c":"Peri-lesion","y":0.788,"l":1.592,"r":2.408},
    {"p":"DKI_RD","k":"v","c":"Peri-lesion","y":0.839,"l":1.636,"r":2.364},
    {"p":"DKI_RD","k":"v","c":"Peri-lesion","y":0.891,"l":1.724,"r":2.276},
    {"p":"DKI_RD","k":"v","c":"Peri-lesion","y":0.942,"l":1.835,"r":2.165},
    {"p":"DKI_RD","k":"v","c":"Peri-lesion","y":0.993,"l":1.934,"r":2.066},
    {"p":"DKI_RD","k":"v","c":"Peri-lesion","y":1.045,"l":2,"r":2},
    {"p":"DKI_RD","k":"v","c":"Contra-lateral NAWM","y":0.366,"l":3,"r":3},
    {"p":"DKI_RD","k":"v","c":"Contra-lateral NAWM","y":0.426,"l":2.978,"r":3.022},
    {"p":"DKI_RD","k":"v","c":"Contra-lateral NAWM","y":0.478,"l":2.934,"r":3.066},
    {"p":"DKI_RD","k":"v","c":"Contra-lateral NAWM","y":0.529,"l":2.845,"r":3.155},
    {"p":"DKI_RD","k":"v","c":"Contra-lateral NAWM","y":0.58,"l":2.735,"r":3.265},
    {"p":"DKI_RD","k":"v","c":"Contra-lateral NAWM","y":0.632,"l":2.624,"r":3.376},
    {"p":"DKI_RD","k":"v","c":"Contra-lateral NAWM","y":0.683,"l":2.558,"r":3.442},
    {"p":"DKI_RD","k":"v","c":"Contra-lateral NAWM","y":0.717,"l":2.549,"r":3.451},
    {"p":"DKI_RD","k":"v","c":"Contra-lateral NAWM","y":0.752,"l":2.58,"r":3.42},
    {"p":"DKI_RD","k":"v","c":"Contra-lateral NAWM","y":0.803,"l":2.668,"r":3.332},
    {"p":"DKI_RD","k":"v","c":"Contra-lateral NAWM","y":0.854,"l":2.757,"r":3.243},
    {"p":"DKI_RD","k":"v","c":"Contra-lateral NAWM","y":0.906,"l":2.845,"r":3.155},
    {"p":"DKI_RD","k":"v","c":"Contra-lateral NAWM","y":0.94,"l":2.903,"r":3.097},
    {"p":"DKI_RD","k":"v","c":"Contra-lateral NAWM","y":0.974,"l":2.965,"r":3.035},
    {"p":"DKI_RD","k":"v","c":"Contra-lateral NAWM","y":1.0,"l":3,"r":3},
    {"p":"DKI_RD","k":"w","x":1,"y":0.486,"y2":1.428},
    {"p":"DKI_RD","k":"w","x":2,"y":0.495,"y2":1.296},
    {"p":"DKI_RD","k":"w","x":3,"y":0.366,"y2":1.38},
    {"p":"DKI_RD","k":"b","x":1,"y":0.772,"y2":1.0},
    {"p":"DKI_RD","k":"b","x":2,"y":0.703,"y2":0.836},
    {"p":"DKI_RD","k":"b","x":3,"y":0.628,"y2":0.748},
    {"p":"DKI_RD","k":"m","x":1,"y":0.872},
    {"p":"DKI_RD","k":"m","x":2,"y":0.769},
    {"p":"DKI_RD","k":"m","x":3,"y":0.688},
    {"p":"DKI_RD","k":"o","x":1,"y":1.428},
    {"p":"DKI_RD","k":"o","x":1,"y":1.4},
    {"p":"DKI_RD","k":"o","x":1,"y":1.38},
    {"p":"DKI_RD","k":"o","x":1,"y":1.36},
    {"p":"DKI_RD","k":"o","x":1,"y":1.34},
    {"p":"DKI_RD","k":"o","x":1,"y":1.325},
    {"p":"DKI_RD","k":"o","x":2,"y":1.296},
    {"p":"DKI_RD","k":"o","x":2,"y":1.171},
    {"p":"DKI_RD","k":"o","x":2,"y":1.051},
    {"p":"DKI_RD","k":"o","x":2,"y":1.043},
    {"p":"DKI_RD","k":"o","x":3,"y":1.38},
    {"p":"DKI_RD","k":"o","x":3,"y":1.146},
    {"p":"DKI_RD","k":"o","x":3,"y":0.974},
    {"p":"DKI_RD","k":"o","x":3,"y":0.44},
    {"p":"DKI_RD","k":"o","x":3,"y":0.423},
    {"p":"DKI_RD","k":"o","x":3,"y":0.366},
    {"p":"DKI_RD","k":"h","x":1,"x2":3,"y":1.776},
    {"p":"DKI_RD","k":"t","x":1,"y":1.736,"y2":1.776},
    {"p":"DKI_RD","k":"t","x":3,"y":1.736,"y2":1.776},
    {"p":"DKI_RD","k":"s","x":2,"y":1.776,"lab":"***"},
    {"p":"DKI_RD","k":"h","x":2,"x2":3,"y":1.649},
    {"p":"DKI_RD","k":"t","x":2,"y":1.608,"y2":1.649},
    {"p":"DKI_RD","k":"t","x":3,"y":1.608,"y2":1.649},
    {"p":"DKI_RD","k":"s","x":2.5,"y":1.649,"lab":"***"},
    {"p":"DKI_RD","k":"h","x":1,"x2":2,"y":1.548},
    {"p":"DKI_RD","k":"t","x":1,"y":1.505,"y2":1.548},
    {"p":"DKI_RD","k":"t","x":2,"y":1.505,"y2":1.548},
    {"p":"DKI_RD","k":"s","x":1.5,"y":1.548,"lab":"***"},

    {"p":"DKI_MD","k":"v","c":"WML","y":0.787,"l":1,"r":1},
    {"p":"DKI_MD","k":"v","c":"WML","y":0.83,"l":0.947,"r":1.053},
    {"p":"DKI_MD","k":"v","c":"WML","y":0.872,"l":0.89,"r":1.11},
    {"p":"DKI_MD","k":"v","c":"WML","y":0.915,"l":0.832,"r":1.168},
    {"p":"DKI_MD","k":"v","c":"WML","y":0.957,"l":0.801,"r":1.199},
    {"p":"DKI_MD","k":"v","c":"WML","y":1.0,"l":0.788,"r":1.212},
    {"p":"DKI_MD","k":"v","c":"WML","y":1.043,"l":0.801,"r":1.199},
    {"p":"DKI_MD","k":"v","c":"WML","y":1.085,"l":0.823,"r":1.177},
    {"p":"DKI_MD","k":"v","c":"WML","y":1.142,"l":0.859,"r":1.141},
    {"p":"DKI_MD","k":"v","c":"WML","y":1.199,"l":0.894,"r":1.106},
    {"p":"DKI_MD","k":"v","c":"WML","y":1.255,"l":0.925,"r":1.075},
    {"p":"DKI_MD","k":"v","c":"WML","y":1.312,"l":0.951,"r":1.049},
    {"p":"DKI_MD","k":"v","c":"WML","y":1.369,"l":0.974,"r":1.026},
    {"p":"DKI_MD","k":"v","c":"WML","y":1.426,"l":0.987,"r":1.013},
    {"p":"DKI_MD","k":"v","c":"WML","y":1.468,"l":1,"r":1},
    {"p":"DKI_MD","k":"v","c":"Peri-lesion","y":0.784,"l":2,"r":2},
    {"p":"DKI_MD","k":"v","c":"Peri-lesion","y":0.816,"l":1.934,"r":2.066},
    {"p":"DKI_MD","k":"v","c":"Peri-lesion","y":0.858,"l":1.801,"r":2.199},
    {"p":"DKI_MD","k":"v","c":"Peri-lesion","y":0.901,"l":1.691,"r":2.309},
    {"p":"DKI_MD","k":"v","c":"Peri-lesion","y":0.943,"l":1.647,"r":2.353},
    {"p":"DKI_MD","k":"v","c":"Peri-lesion","y":0.972,"l":1.647,"r":2.353},
    {"p":"DKI_MD","k":"v","c":"Peri-lesion","y":1.014,"l":1.682,"r":2.318},
    {"p":"DKI_MD","k":"v","c":"Peri-lesion","y":1.057,"l":1.757,"r":2.243},
    {"p":"DKI_MD","k":"v","c":"Peri-lesion","y":1.099,"l":1.832,"r":2.168},
    {"p":"DKI_MD","k":"v","c":"Peri-lesion","y":1.142,"l":1.903,"r":2.097},
    {"p":"DKI_MD","k":"v","c":"Peri-lesion","y":1.17,"l":1.947,"r":2.053},
    {"p":"DKI_MD","k":"v","c":"Peri-lesion","y":1.191,"l":2,"r":2},
    {"p":"DKI_MD","k":"v","c":"Contra-lateral NAWM","y":0.73,"l":3,"r":3},
    {"p":"DKI_MD","k":"v","c":"Contra-lateral NAWM","y":0.773,"l":2.912,"r":3.088},
    {"p":"DKI_MD","k":"v","c":"Contra-lateral NAWM","y":0.816,"l":2.757,"r":3.243},
    {"p":"DKI_MD","k":"v","c":"Contra-lateral NAWM","y":0.858,"l":2.625,"r":3.375},
    {"p":"DKI_MD","k":"v","c":"Contra-lateral NAWM","y":0.894,"l":2.558,"r":3.442},
    {"p":"DKI_MD","k":"v","c":"Contra-lateral NAWM","y":0.922,"l":2.594,"r":3.406},
    {"p":"DKI_MD","k":"v","c":"Contra-lateral NAWM","y":0.957,"l":2.691,"r":3.309},
    {"p":"DKI_MD","k":"v","c":"Contra-lateral NAWM","y":1.0,"l":2.801,"r":3.199},
    {"p":"DKI_MD","k":"v","c":"Contra-lateral NAWM","y":1.043,"l":2.89,"r":3.11},
    {"p":"DKI_MD","k":"v","c":"Contra-lateral NAWM","y":1.071,"l":2.934,"r":3.066},
    {"p":"DKI_MD","k":"v","c":"Contra-lateral NAWM","y":1.099,"l":2.965,"r":3.035},
    {"p":"DKI_MD","k":"v","c":"Contra-lateral NAWM","y":1.121,"l":3,"r":3},
    {"p":"DKI_MD","k":"w","x":1,"y":0.787,"y2":1.61},
    {"p":"DKI_MD","k":"w","x":2,"y":0.784,"y2":1.447},
    {"p":"DKI_MD","k":"w","x":3,"y":0.685,"y2":1.504},
    {"p":"DKI_MD","k":"b","x":1,"y":0.979,"y2":1.184},
    {"p":"DKI_MD","k":"b","x":2,"y":0.922,"y2":1.028},
    {"p":"DKI_MD","k":"b","x":3,"y":0.847,"y2":0.936},
    {"p":"DKI_MD","k":"m","x":1,"y":1.06},
    {"p":"DKI_MD","k":"m","x":2,"y":0.969},
    {"p":"DKI_MD","k":"m","x":3,"y":0.894},
    {"p":"DKI_MD","k":"o","x":1,"y":1.61},
    {"p":"DKI_MD","k":"o","x":1,"y":1.58},
    {"p":"DKI_MD","k":"o","x":1,"y":1.56},
    {"p":"DKI_MD","k":"o","x":1,"y":1.496},
    {"p":"DKI_MD","k":"o","x":1,"y":1.475},
    {"p":"DKI_MD","k":"o","x":2,"y":1.447},
    {"p":"DKI_MD","k":"o","x":2,"y":1.343},
    {"p":"DKI_MD","k":"o","x":2,"y":1.294},
    {"p":"DKI_MD","k":"o","x":2,"y":1.206},
    {"p":"DKI_MD","k":"o","x":3,"y":0.685},
    {"p":"DKI_MD","k":"o","x":3,"y":1.504},
    {"p":"DKI_MD","k":"o","x":3,"y":1.33},
    {"p":"DKI_MD","k":"o","x":3,"y":1.213},
    {"p":"DKI_MD","k":"o","x":3,"y":1.191},
    {"p":"DKI_MD","k":"o","x":3,"y":1.12},
    {"p":"DKI_MD","k":"o","x":3,"y":1.1},
    {"p":"DKI_MD","k":"h","x":1,"x2":3,"y":1.898},
    {"p":"DKI_MD","k":"t","x":1,"y":1.858,"y2":1.898},
    {"p":"DKI_MD","k":"t","x":3,"y":1.858,"y2":1.898},
    {"p":"DKI_MD","k":"s","x":2,"y":1.898,"lab":"***"},
    {"p":"DKI_MD","k":"h","x":2,"x2":3,"y":1.797},
    {"p":"DKI_MD","k":"t","x":2,"y":1.759,"y2":1.797},
    {"p":"DKI_MD","k":"t","x":3,"y":1.759,"y2":1.797},
    {"p":"DKI_MD","k":"s","x":2.5,"y":1.797,"lab":"***"},
    {"p":"DKI_MD","k":"h","x":1,"x2":2,"y":1.698},
    {"p":"DKI_MD","k":"t","x":1,"y":1.657,"y2":1.698},
    {"p":"DKI_MD","k":"t","x":2,"y":1.657,"y2":1.698},
    {"p":"DKI_MD","k":"s","x":1.5,"y":1.698,"lab":"***"},

    {"p":"DKI_FA","k":"v","c":"WML","y":0.091,"l":1,"r":1},
    {"p":"DKI_FA","k":"v","c":"WML","y":0.119,"l":0.973,"r":1.027},
    {"p":"DKI_FA","k":"v","c":"WML","y":0.151,"l":0.933,"r":1.067},
    {"p":"DKI_FA","k":"v","c":"WML","y":0.182,"l":0.845,"r":1.155},
    {"p":"DKI_FA","k":"v","c":"WML","y":0.213,"l":0.756,"r":1.244},
    {"p":"DKI_FA","k":"v","c":"WML","y":0.245,"l":0.69,"r":1.31},
    {"p":"DKI_FA","k":"v","c":"WML","y":0.276,"l":0.654,"r":1.346},
    {"p":"DKI_FA","k":"v","c":"WML","y":0.308,"l":0.645,"r":1.355},
    {"p":"DKI_FA","k":"v","c":"WML","y":0.339,"l":0.667,"r":1.333},
    {"p":"DKI_FA","k":"v","c":"WML","y":0.37,"l":0.725,"r":1.275},
    {"p":"DKI_FA","k":"v","c":"WML","y":0.402,"l":0.787,"r":1.213},
    {"p":"DKI_FA","k":"v","c":"WML","y":0.433,"l":0.845,"r":1.155},
    {"p":"DKI_FA","k":"v","c":"WML","y":0.464,"l":0.889,"r":1.111},
    {"p":"DKI_FA","k":"v","c":"WML","y":0.496,"l":0.933,"r":1.067},
    {"p":"DKI_FA","k":"v","c":"WML","y":0.527,"l":0.965,"r":1.035},
    {"p":"DKI_FA","k":"v","c":"WML","y":0.559,"l":0.987,"r":1.013},
    {"p":"DKI_FA","k":"v","c":"WML","y":0.58,"l":1,"r":1},
    {"p":"DKI_FA","k":"v","c":"Peri-lesion","y":0.077,"l":2,"r":2},
    {"p":"DKI_FA","k":"v","c":"Peri-lesion","y":0.151,"l":1.987,"r":2.013},
    {"p":"DKI_FA","k":"v","c":"Peri-lesion","y":0.182,"l":1.956,"r":2.044},
    {"p":"DKI_FA","k":"v","c":"Peri-lesion","y":0.213,"l":1.867,"r":2.133},
    {"p":"DKI_FA","k":"v","c":"Peri-lesion","y":0.245,"l":1.756,"r":2.244},
    {"p":"DKI_FA","k":"v","c":"Peri-lesion","y":0.276,"l":1.667,"r":2.333},
    {"p":"DKI_FA","k":"v","c":"Peri-lesion","y":0.308,"l":1.601,"r":2.399},
    {"p":"DKI_FA","k":"v","c":"Peri-lesion","y":0.339,"l":1.557,"r":2.443},
    {"p":"DKI_FA","k":"v","c":"Peri-lesion","y":0.36,"l":1.557,"r":2.443},
    {"p":"DKI_FA","k":"v","c":"Peri-lesion","y":0.381,"l":1.623,"r":2.377},
    {"p":"DKI_FA","k":"v","c":"Peri-lesion","y":0.412,"l":1.734,"r":2.266},
    {"p":"DKI_FA","k":"v","c":"Peri-lesion","y":0.444,"l":1.8,"r":2.2},
    {"p":"DKI_FA","k":"v","c":"Peri-lesion","y":0.475,"l":1.867,"r":2.133},
    {"p":"DKI_FA","k":"v","c":"Peri-lesion","y":0.506,"l":1.933,"r":2.067},
    {"p":"DKI_FA","k":"v","c":"Peri-lesion","y":0.538,"l":1.969,"r":2.031},
    {"p":"DKI_FA","k":"v","c":"Peri-lesion","y":0.569,"l":2,"r":2},
    {"p":"DKI_FA","k":"v","c":"Contra-lateral NAWM","y":0.135,"l":3,"r":3},
    {"p":"DKI_FA","k":"v","c":"Contra-lateral NAWM","y":0.172,"l":2.978,"r":3.022},
    {"p":"DKI_FA","k":"v","c":"Contra-lateral NAWM","y":0.203,"l":2.947,"r":3.053},
    {"p":"DKI_FA","k":"v","c":"Contra-lateral NAWM","y":0.234,"l":2.889,"r":3.111},
    {"p":"DKI_FA","k":"v","c":"Contra-lateral NAWM","y":0.266,"l":2.823,"r":3.177},
    {"p":"DKI_FA","k":"v","c":"Contra-lateral NAWM","y":0.297,"l":2.756,"r":3.244},
    {"p":"DKI_FA","k":"v","c":"Contra-lateral NAWM","y":0.328,"l":2.712,"r":3.288},
    {"p":"DKI_FA","k":"v","c":"Contra-lateral NAWM","y":0.36,"l":2.69,"r":3.31},
    {"p":"DKI_FA","k":"v","c":"Contra-lateral NAWM","y":0.391,"l":2.681,"r":3.319},
    {"p":"DKI_FA","k":"v","c":"Contra-lateral NAWM","y":0.423,"l":2.676,"r":3.324},
    {"p":"DKI_FA","k":"v","c":"Contra-lateral NAWM","y":0.454,"l":2.698,"r":3.302},
    {"p":"DKI_FA","k":"v","c":"Contra-lateral NAWM","y":0.485,"l":2.756,"r":3.244},
    {"p":"DKI_FA","k":"v","c":"Contra-lateral NAWM","y":0.517,"l":2.823,"r":3.177},
    {"p":"DKI_FA","k":"v","c":"Contra-lateral NAWM","y":0.548,"l":2.889,"r":3.111},
    {"p":"DKI_FA","k":"v","c":"Contra-lateral NAWM","y":0.58,"l":2.942,"r":3.058},
    {"p":"DKI_FA","k":"v","c":"Contra-lateral NAWM","y":0.611,"l":2.973,"r":3.027},
    {"p":"DKI_FA","k":"v","c":"Contra-lateral NAWM","y":0.642,"l":2.991,"r":3.009},
    {"p":"DKI_FA","k":"v","c":"Contra-lateral NAWM","y":0.675,"l":2.996,"r":3.004},
    {"p":"DKI_FA","k":"v","c":"Contra-lateral NAWM","y":0.72,"l":3,"r":3},
    {"p":"DKI_FA","k":"w","x":1,"y":0.091,"y2":0.674},
    {"p":"DKI_FA","k":"w","x":2,"y":0.077,"y2":0.677},
    {"p":"DKI_FA","k":"w","x":3,"y":0.135,"y2":0.766},
    {"p":"DKI_FA","k":"b","x":1,"y":0.278,"y2":0.393},
    {"p":"DKI_FA","k":"b","x":2,"y":0.326,"y2":0.415},
    {"p":"DKI_FA","k":"b","x":3,"y":0.334,"y2":0.464},
    {"p":"DKI_FA","k":"m","x":1,"y":0.328},
    {"p":"DKI_FA","k":"m","x":2,"y":0.37},
    {"p":"DKI_FA","k":"m","x":3,"y":0.404},
    {"p":"DKI_FA","k":"o","x":1,"y":0.674},
    {"p":"DKI_FA","k":"o","x":1,"y":0.653},
    {"p":"DKI_FA","k":"o","x":1,"y":0.6},
    {"p":"DKI_FA","k":"o","x":1,"y":0.585},
    {"p":"DKI_FA","k":"o","x":1,"y":0.574},
    {"p":"DKI_FA","k":"o","x":2,"y":0.677},
    {"p":"DKI_FA","k":"o","x":2,"y":0.663},
    {"p":"DKI_FA","k":"o","x":2,"y":0.648},
    {"p":"DKI_FA","k":"o","x":2,"y":0.632},
    {"p":"DKI_FA","k":"o","x":2,"y":0.616},
    {"p":"DKI_FA","k":"o","x":2,"y":0.6},
    {"p":"DKI_FA","k":"o","x":2,"y":0.185},
    {"p":"DKI_FA","k":"o","x":2,"y":0.175},
    {"p":"DKI_FA","k":"o","x":2,"y":0.077},
    {"p":"DKI_FA","k":"o","x":3,"y":0.766},
    {"p":"DKI_FA","k":"o","x":3,"y":0.757},
    {"p":"DKI_FA","k":"o","x":3,"y":0.747},
    {"p":"DKI_FA","k":"o","x":3,"y":0.736},
    {"p":"DKI_FA","k":"o","x":3,"y":0.705},
    {"p":"DKI_FA","k":"o","x":3,"y":0.689},
    {"p":"DKI_FA","k":"o","x":3,"y":0.679},
    {"p":"DKI_FA","k":"o","x":3,"y":0.668},
    {"p":"DKI_FA","k":"o","x":3,"y":0.135},
    {"p":"DKI_FA","k":"h","x":1,"x2":3,"y":0.912},
    {"p":"DKI_FA","k":"t","x":1,"y":0.885,"y2":0.912},
    {"p":"DKI_FA","k":"t","x":3,"y":0.885,"y2":0.912},
    {"p":"DKI_FA","k":"s","x":2,"y":0.912,"lab":"***"},
    {"p":"DKI_FA","k":"h","x":2,"x2":3,"y":0.834},
    {"p":"DKI_FA","k":"t","x":2,"y":0.808,"y2":0.834},
    {"p":"DKI_FA","k":"t","x":3,"y":0.808,"y2":0.834},
    {"p":"DKI_FA","k":"s","x":2.5,"y":0.834,"lab":"***"},
    {"p":"DKI_FA","k":"h","x":1,"x2":2,"y":0.786},
    {"p":"DKI_FA","k":"t","x":1,"y":0.755,"y2":0.786},
    {"p":"DKI_FA","k":"t","x":2,"y":0.755,"y2":0.786},
    {"p":"DKI_FA","k":"s","x":1.5,"y":0.786,"lab":"***"}
  ]},
  "columns": 4,
  "align": "each",
  "spacing": {"row": 7, "column": 3},
  "resolve": {"scale": {"color": "shared", "x": "independent", "y": "independent"}, "legend": {"color": "shared"}},
  "concat": [
    {
      "width": 248, "height": 350,
      "transform": [{"filter": "datum.p == 'DTI_AD'"}],
      "encoding": {
        "x": {"field": "x", "type": "quantitative", "scale": {"domain": [0.4, 3.6], "nice": false, "zero": false}, "axis": {"values": [1, 2, 3], "labels": false}, "title": null},
        "y": {"field": "y", "type": "quantitative", "scale": {"domain": [0.38, 3.02], "nice": false, "zero": false}, "title": "DTI_AD",
          "axis": {"values": [0.5, 1, 1.5, 2, 2.5, 3], "format": ".0f", "minExtent": 17, "maxExtent": 17,
            "labelExpr": "indexof([1,2,3], datum.value) < 0 ? '' : datum.label",
            "gridWidth": {"condition": {"test": "indexof([1,2,3], datum.value) >= 0", "value": 1.1}, "value": 0.5},
            "tickOpacity": {"condition": {"test": "indexof([1,2,3], datum.value) >= 0", "value": 1}, "value": 0}}}
      },
      "layer": [
        {"transform": [{"filter": "datum.k == 'v'"}], "mark": {"type": "area", "orient": "horizontal", "interpolate": "monotone", "stroke": "#333333", "strokeWidth": 0.8, "opacity": 1}, "encoding": {"x": {"field": "l", "type": "quantitative"}, "x2": {"field": "r"}, "color": {"field": "c", "type": "nominal", "scale": {"domain": ["WML", "Peri-lesion", "Contra-lateral NAWM"], "range": ["#F8766D", "#2DB34A", "#6490D6"]}, "title": null}}},
        {"transform": [{"filter": "datum.k == 'w'"}], "mark": {"type": "rule", "color": "#1a1a1a", "strokeWidth": 0.9}, "encoding": {"y2": {"field": "y2"}}},
        {"transform": [{"filter": "datum.k == 'b'"}], "mark": {"type": "bar", "orient": "vertical", "width": 8, "fill": "white", "stroke": "#333333", "strokeWidth": 0.9}, "encoding": {"y2": {"field": "y2"}}},
        {"transform": [{"filter": "datum.k == 'm'"}], "mark": {"type": "tick", "orient": "horizontal", "size": 8, "thickness": 2, "color": "black", "opacity": 1}},
        {"transform": [{"filter": "datum.k == 'o'"}], "mark": {"type": "circle", "size": 14, "color": "#222222", "opacity": 1}},
        {"transform": [{"filter": "datum.k == 'h'"}], "mark": {"type": "rule", "color": "#333333", "strokeWidth": 1}, "encoding": {"x2": {"field": "x2"}}},
        {"transform": [{"filter": "datum.k == 't'"}], "mark": {"type": "rule", "color": "#333333", "strokeWidth": 1}, "encoding": {"y2": {"field": "y2"}}},
        {"transform": [{"filter": "datum.k == 's'"}], "mark": {"type": "text", "fontSize": 20, "fontWeight": "bold", "dy": -4, "baseline": "alphabetic", "font": "Liberation Sans", "color": "black"}, "encoding": {"text": {"field": "lab", "type": "nominal"}}}
      ]
    },
    {
      "width": 242, "height": 350,
      "transform": [{"filter": "datum.p == 'DTI_RD'"}],
      "encoding": {
        "x": {"field": "x", "type": "quantitative", "scale": {"domain": [0.4, 3.6], "nice": false, "zero": false}, "axis": {"values": [1, 2, 3], "labels": false}, "title": null},
        "y": {"field": "y", "type": "quantitative", "scale": {"domain": [0.128, 1.67], "nice": false, "zero": false}, "title": "DTI_RD",
          "axis": {"values": [0.2, 0.4, 0.6, 0.8, 1.0, 1.2, 1.4, 1.6], "format": ".1f", "minExtent": 21, "maxExtent": 21,
            "labelExpr": "indexof([0.4,0.8,1.2,1.6], datum.value) < 0 ? '' : datum.label",
            "gridWidth": {"condition": {"test": "indexof([0.4,0.8,1.2,1.6], datum.value) >= 0", "value": 1.1}, "value": 0.5},
            "tickOpacity": {"condition": {"test": "indexof([0.4,0.8,1.2,1.6], datum.value) >= 0", "value": 1}, "value": 0}}}
      },
      "layer": [
        {"transform": [{"filter": "datum.k == 'v'"}], "mark": {"type": "area", "orient": "horizontal", "interpolate": "monotone", "stroke": "#333333", "strokeWidth": 0.8, "opacity": 1}, "encoding": {"x": {"field": "l", "type": "quantitative"}, "x2": {"field": "r"}, "color": {"field": "c", "type": "nominal", "scale": {"domain": ["WML", "Peri-lesion", "Contra-lateral NAWM"], "range": ["#F8766D", "#2DB34A", "#6490D6"]}, "title": null}}},
        {"transform": [{"filter": "datum.k == 'w'"}], "mark": {"type": "rule", "color": "#1a1a1a", "strokeWidth": 0.9}, "encoding": {"y2": {"field": "y2"}}},
        {"transform": [{"filter": "datum.k == 'b'"}], "mark": {"type": "bar", "orient": "vertical", "width": 8, "fill": "white", "stroke": "#333333", "strokeWidth": 0.9}, "encoding": {"y2": {"field": "y2"}}},
        {"transform": [{"filter": "datum.k == 'm'"}], "mark": {"type": "tick", "orient": "horizontal", "size": 8, "thickness": 2, "color": "black", "opacity": 1}},
        {"transform": [{"filter": "datum.k == 'o'"}], "mark": {"type": "circle", "size": 14, "color": "#222222", "opacity": 1}},
        {"transform": [{"filter": "datum.k == 'h'"}], "mark": {"type": "rule", "color": "#333333", "strokeWidth": 1}, "encoding": {"x2": {"field": "x2"}}},
        {"transform": [{"filter": "datum.k == 't'"}], "mark": {"type": "rule", "color": "#333333", "strokeWidth": 1}, "encoding": {"y2": {"field": "y2"}}},
        {"transform": [{"filter": "datum.k == 's'"}], "mark": {"type": "text", "fontSize": 20, "fontWeight": "bold", "dy": -4, "baseline": "alphabetic", "font": "Liberation Sans", "color": "black"}, "encoding": {"text": {"field": "lab", "type": "nominal"}}}
      ]
    },
    {
      "width": 241, "height": 350,
      "transform": [{"filter": "datum.p == 'DTI_MD'"}],
      "encoding": {
        "x": {"field": "x", "type": "quantitative", "scale": {"domain": [0.4, 3.6], "nice": false, "zero": false}, "axis": {"values": [1, 2, 3], "labels": false}, "title": null},
        "y": {"field": "y", "type": "quantitative", "scale": {"domain": [0.539, 1.862], "nice": false, "zero": false}, "title": "DTI_MD",
          "axis": {"values": [0.75, 1.0, 1.25, 1.5, 1.75], "format": ".1f", "minExtent": 20, "maxExtent": 20,
            "labelExpr": "indexof([1,1.5], datum.value) < 0 ? '' : datum.label",
            "gridWidth": {"condition": {"test": "indexof([1,1.5], datum.value) >= 0", "value": 1.1}, "value": 0.5},
            "tickOpacity": {"condition": {"test": "indexof([1,1.5], datum.value) >= 0", "value": 1}, "value": 0}}}
      },
      "layer": [
        {"transform": [{"filter": "datum.k == 'v'"}], "mark": {"type": "area", "orient": "horizontal", "interpolate": "monotone", "stroke": "#333333", "strokeWidth": 0.8, "opacity": 1}, "encoding": {"x": {"field": "l", "type": "quantitative"}, "x2": {"field": "r"}, "color": {"field": "c", "type": "nominal", "scale": {"domain": ["WML", "Peri-lesion", "Contra-lateral NAWM"], "range": ["#F8766D", "#2DB34A", "#6490D6"]}, "title": null}}},
        {"transform": [{"filter": "datum.k == 'w'"}], "mark": {"type": "rule", "color": "#1a1a1a", "strokeWidth": 0.9}, "encoding": {"y2": {"field": "y2"}}},
        {"transform": [{"filter": "datum.k == 'b'"}], "mark": {"type": "bar", "orient": "vertical", "width": 8, "fill": "white", "stroke": "#333333", "strokeWidth": 0.9}, "encoding": {"y2": {"field": "y2"}}},
        {"transform": [{"filter": "datum.k == 'm'"}], "mark": {"type": "tick", "orient": "horizontal", "size": 8, "thickness": 2, "color": "black", "opacity": 1}},
        {"transform": [{"filter": "datum.k == 'o'"}], "mark": {"type": "circle", "size": 14, "color": "#222222", "opacity": 1}},
        {"transform": [{"filter": "datum.k == 'h'"}], "mark": {"type": "rule", "color": "#333333", "strokeWidth": 1}, "encoding": {"x2": {"field": "x2"}}},
        {"transform": [{"filter": "datum.k == 't'"}], "mark": {"type": "rule", "color": "#333333", "strokeWidth": 1}, "encoding": {"y2": {"field": "y2"}}},
        {"transform": [{"filter": "datum.k == 's'"}], "mark": {"type": "text", "fontSize": 20, "fontWeight": "bold", "dy": -4, "baseline": "alphabetic", "font": "Liberation Sans", "color": "black"}, "encoding": {"text": {"field": "lab", "type": "nominal"}}}
      ]
    },
    {
      "width": 242, "height": 350,
      "transform": [{"filter": "datum.p == 'DTI_FA'"}],
      "encoding": {
        "x": {"field": "x", "type": "quantitative", "scale": {"domain": [0.4, 3.6], "nice": false, "zero": false}, "axis": {"values": [1, 2, 3], "labels": false}, "title": null},
        "y": {"field": "y", "type": "quantitative", "scale": {"domain": [-0.056, 1.154], "nice": false, "zero": false}, "title": "DTI_FA",
          "axis": {"values": [0, 0.15, 0.3, 0.45, 0.6, 0.75, 0.9, 1.05], "format": ".1f", "minExtent": 27, "maxExtent": 27,
            "labelExpr": "indexof([0,0.3,0.6,0.9], datum.value) < 0 ? '' : datum.label",
            "gridWidth": {"condition": {"test": "indexof([0,0.3,0.6,0.9], datum.value) >= 0", "value": 1.1}, "value": 0.5},
            "tickOpacity": {"condition": {"test": "indexof([0,0.3,0.6,0.9], datum.value) >= 0", "value": 1}, "value": 0}}}
      },
      "layer": [
        {"transform": [{"filter": "datum.k == 'v'"}], "mark": {"type": "area", "orient": "horizontal", "interpolate": "monotone", "stroke": "#333333", "strokeWidth": 0.8, "opacity": 1}, "encoding": {"x": {"field": "l", "type": "quantitative"}, "x2": {"field": "r"}, "color": {"field": "c", "type": "nominal", "scale": {"domain": ["WML", "Peri-lesion", "Contra-lateral NAWM"], "range": ["#F8766D", "#2DB34A", "#6490D6"]}, "title": null}}},
        {"transform": [{"filter": "datum.k == 'w'"}], "mark": {"type": "rule", "color": "#1a1a1a", "strokeWidth": 0.9}, "encoding": {"y2": {"field": "y2"}}},
        {"transform": [{"filter": "datum.k == 'b'"}], "mark": {"type": "bar", "orient": "vertical", "width": 8, "fill": "white", "stroke": "#333333", "strokeWidth": 0.9}, "encoding": {"y2": {"field": "y2"}}},
        {"transform": [{"filter": "datum.k == 'm'"}], "mark": {"type": "tick", "orient": "horizontal", "size": 8, "thickness": 2, "color": "black", "opacity": 1}},
        {"transform": [{"filter": "datum.k == 'o'"}], "mark": {"type": "circle", "size": 14, "color": "#222222", "opacity": 1}},
        {"transform": [{"filter": "datum.k == 'h'"}], "mark": {"type": "rule", "color": "#333333", "strokeWidth": 1}, "encoding": {"x2": {"field": "x2"}}},
        {"transform": [{"filter": "datum.k == 't'"}], "mark": {"type": "rule", "color": "#333333", "strokeWidth": 1}, "encoding": {"y2": {"field": "y2"}}},
        {"transform": [{"filter": "datum.k == 's'"}], "mark": {"type": "text", "fontSize": 20, "fontWeight": "bold", "dy": -4, "baseline": "alphabetic", "font": "Liberation Sans", "color": "black"}, "encoding": {"text": {"field": "lab", "type": "nominal"}}}
      ]
    },
    {
      "width": 248, "height": 350,
      "transform": [{"filter": "datum.p == 'DKI_AD'"}],
      "encoding": {
        "x": {"field": "x", "type": "quantitative", "scale": {"domain": [0.4, 3.6], "nice": false, "zero": false}, "axis": {"values": [1, 2, 3], "labels": false}, "title": null},
        "y": {"field": "y", "type": "quantitative", "scale": {"domain": [0.58, 3.291], "nice": false, "zero": false}, "title": "DKI_AD",
          "axis": {"values": [0.75, 1.0, 1.25, 1.5, 1.75, 2.0, 2.25, 2.5, 2.75, 3.0, 3.25], "format": ".1f", "minExtent": 17, "maxExtent": 17,
            "labelExpr": "indexof([1,1.5,2,2.5,3], datum.value) < 0 ? '' : datum.label",
            "gridWidth": {"condition": {"test": "indexof([1,1.5,2,2.5,3], datum.value) >= 0", "value": 1.1}, "value": 0.5},
            "tickOpacity": {"condition": {"test": "indexof([1,1.5,2,2.5,3], datum.value) >= 0", "value": 1}, "value": 0}}}
      },
      "layer": [
        {"transform": [{"filter": "datum.k == 'v'"}], "mark": {"type": "area", "orient": "horizontal", "interpolate": "monotone", "stroke": "#333333", "strokeWidth": 0.8, "opacity": 1}, "encoding": {"x": {"field": "l", "type": "quantitative"}, "x2": {"field": "r"}, "color": {"field": "c", "type": "nominal", "scale": {"domain": ["WML", "Peri-lesion", "Contra-lateral NAWM"], "range": ["#F8766D", "#2DB34A", "#6490D6"]}, "title": null}}},
        {"transform": [{"filter": "datum.k == 'w'"}], "mark": {"type": "rule", "color": "#1a1a1a", "strokeWidth": 0.9}, "encoding": {"y2": {"field": "y2"}}},
        {"transform": [{"filter": "datum.k == 'b'"}], "mark": {"type": "bar", "orient": "vertical", "width": 8, "fill": "white", "stroke": "#333333", "strokeWidth": 0.9}, "encoding": {"y2": {"field": "y2"}}},
        {"transform": [{"filter": "datum.k == 'm'"}], "mark": {"type": "tick", "orient": "horizontal", "size": 8, "thickness": 2, "color": "black", "opacity": 1}},
        {"transform": [{"filter": "datum.k == 'o'"}], "mark": {"type": "circle", "size": 14, "color": "#222222", "opacity": 1}},
        {"transform": [{"filter": "datum.k == 'h'"}], "mark": {"type": "rule", "color": "#333333", "strokeWidth": 1}, "encoding": {"x2": {"field": "x2"}}},
        {"transform": [{"filter": "datum.k == 't'"}], "mark": {"type": "rule", "color": "#333333", "strokeWidth": 1}, "encoding": {"y2": {"field": "y2"}}},
        {"transform": [{"filter": "datum.k == 's'"}], "mark": {"type": "text", "fontSize": 20, "fontWeight": "bold", "dy": -4, "baseline": "alphabetic", "font": "Liberation Sans", "color": "black"}, "encoding": {"text": {"field": "lab", "type": "nominal"}}}
      ]
    },
    {
      "width": 242, "height": 350,
      "transform": [{"filter": "datum.p == 'DKI_RD'"}],
      "encoding": {
        "x": {"field": "x", "type": "quantitative", "scale": {"domain": [0.4, 3.6], "nice": false, "zero": false}, "axis": {"values": [1, 2, 3], "labels": false}, "title": null},
        "y": {"field": "y", "type": "quantitative", "scale": {"domain": [0.173, 1.976], "nice": false, "zero": false}, "title": "DKI_RD",
          "axis": {"values": [0.25, 0.5, 0.75, 1.0, 1.25, 1.5, 1.75], "format": ".1f", "minExtent": 21, "maxExtent": 21,
            "labelExpr": "indexof([0.5,1,1.5], datum.value) < 0 ? '' : datum.label",
            "gridWidth": {"condition": {"test": "indexof([0.5,1,1.5], datum.value) >= 0", "value": 1.1}, "value": 0.5},
            "tickOpacity": {"condition": {"test": "indexof([0.5,1,1.5], datum.value) >= 0", "value": 1}, "value": 0}}}
      },
      "layer": [
        {"transform": [{"filter": "datum.k == 'v'"}], "mark": {"type": "area", "orient": "horizontal", "interpolate": "monotone", "stroke": "#333333", "strokeWidth": 0.8, "opacity": 1}, "encoding": {"x": {"field": "l", "type": "quantitative"}, "x2": {"field": "r"}, "color": {"field": "c", "type": "nominal", "scale": {"domain": ["WML", "Peri-lesion", "Contra-lateral NAWM"], "range": ["#F8766D", "#2DB34A", "#6490D6"]}, "title": null}}},
        {"transform": [{"filter": "datum.k == 'w'"}], "mark": {"type": "rule", "color": "#1a1a1a", "strokeWidth": 0.9}, "encoding": {"y2": {"field": "y2"}}},
        {"transform": [{"filter": "datum.k == 'b'"}], "mark": {"type": "bar", "orient": "vertical", "width": 8, "fill": "white", "stroke": "#333333", "strokeWidth": 0.9}, "encoding": {"y2": {"field": "y2"}}},
        {"transform": [{"filter": "datum.k == 'm'"}], "mark": {"type": "tick", "orient": "horizontal", "size": 8, "thickness": 2, "color": "black", "opacity": 1}},
        {"transform": [{"filter": "datum.k == 'o'"}], "mark": {"type": "circle", "size": 14, "color": "#222222", "opacity": 1}},
        {"transform": [{"filter": "datum.k == 'h'"}], "mark": {"type": "rule", "color": "#333333", "strokeWidth": 1}, "encoding": {"x2": {"field": "x2"}}},
        {"transform": [{"filter": "datum.k == 't'"}], "mark": {"type": "rule", "color": "#333333", "strokeWidth": 1}, "encoding": {"y2": {"field": "y2"}}},
        {"transform": [{"filter": "datum.k == 's'"}], "mark": {"type": "text", "fontSize": 20, "fontWeight": "bold", "dy": -4, "baseline": "alphabetic", "font": "Liberation Sans", "color": "black"}, "encoding": {"text": {"field": "lab", "type": "nominal"}}}
      ]
    },
    {
      "width": 241, "height": 350,
      "transform": [{"filter": "datum.p == 'DKI_MD'"}],
      "encoding": {
        "x": {"field": "x", "type": "quantitative", "scale": {"domain": [0.4, 3.6], "nice": false, "zero": false}, "axis": {"values": [1, 2, 3], "labels": false}, "title": null},
        "y": {"field": "y", "type": "quantitative", "scale": {"domain": [0.532, 2.021], "nice": false, "zero": false}, "title": "DKI_MD",
          "axis": {"values": [0.75, 1.0, 1.25, 1.5, 1.75, 2.0], "format": ".1f", "minExtent": 20, "maxExtent": 20,
            "labelExpr": "indexof([1,1.5,2], datum.value) < 0 ? '' : datum.label",
            "gridWidth": {"condition": {"test": "indexof([1,1.5,2], datum.value) >= 0", "value": 1.1}, "value": 0.5},
            "tickOpacity": {"condition": {"test": "indexof([1,1.5,2], datum.value) >= 0", "value": 1}, "value": 0}}}
      },
      "layer": [
        {"transform": [{"filter": "datum.k == 'v'"}], "mark": {"type": "area", "orient": "horizontal", "interpolate": "monotone", "stroke": "#333333", "strokeWidth": 0.8, "opacity": 1}, "encoding": {"x": {"field": "l", "type": "quantitative"}, "x2": {"field": "r"}, "color": {"field": "c", "type": "nominal", "scale": {"domain": ["WML", "Peri-lesion", "Contra-lateral NAWM"], "range": ["#F8766D", "#2DB34A", "#6490D6"]}, "title": null}}},
        {"transform": [{"filter": "datum.k == 'w'"}], "mark": {"type": "rule", "color": "#1a1a1a", "strokeWidth": 0.9}, "encoding": {"y2": {"field": "y2"}}},
        {"transform": [{"filter": "datum.k == 'b'"}], "mark": {"type": "bar", "orient": "vertical", "width": 8, "fill": "white", "stroke": "#333333", "strokeWidth": 0.9}, "encoding": {"y2": {"field": "y2"}}},
        {"transform": [{"filter": "datum.k == 'm'"}], "mark": {"type": "tick", "orient": "horizontal", "size": 8, "thickness": 2, "color": "black", "opacity": 1}},
        {"transform": [{"filter": "datum.k == 'o'"}], "mark": {"type": "circle", "size": 14, "color": "#222222", "opacity": 1}},
        {"transform": [{"filter": "datum.k == 'h'"}], "mark": {"type": "rule", "color": "#333333", "strokeWidth": 1}, "encoding": {"x2": {"field": "x2"}}},
        {"transform": [{"filter": "datum.k == 't'"}], "mark": {"type": "rule", "color": "#333333", "strokeWidth": 1}, "encoding": {"y2": {"field": "y2"}}},
        {"transform": [{"filter": "datum.k == 's'"}], "mark": {"type": "text", "fontSize": 20, "fontWeight": "bold", "dy": -4, "baseline": "alphabetic", "font": "Liberation Sans", "color": "black"}, "encoding": {"text": {"field": "lab", "type": "nominal"}}}
      ]
    },
    {
      "width": 242, "height": 350,
      "transform": [{"filter": "datum.p == 'DKI_FA'"}],
      "encoding": {
        "x": {"field": "x", "type": "quantitative", "scale": {"domain": [0.4, 3.6], "nice": false, "zero": false}, "axis": {"values": [1, 2, 3], "labels": false}, "title": null},
        "y": {"field": "y", "type": "quantitative", "scale": {"domain": [-0.048, 1.05], "nice": false, "zero": false}, "title": "DKI_FA",
          "axis": {"values": [0, 0.125, 0.25, 0.375, 0.5, 0.625, 0.75, 0.875, 1.0], "format": ".2f", "minExtent": 27, "maxExtent": 27,
            "labelExpr": "indexof([0,0.25,0.5,0.75,1], datum.value) < 0 ? '' : datum.label",
            "gridWidth": {"condition": {"test": "indexof([0,0.25,0.5,0.75,1], datum.value) >= 0", "value": 1.1}, "value": 0.5},
            "tickOpacity": {"condition": {"test": "indexof([0,0.25,0.5,0.75,1], datum.value) >= 0", "value": 1}, "value": 0}}}
      },
      "layer": [
        {"transform": [{"filter": "datum.k == 'v'"}], "mark": {"type": "area", "orient": "horizontal", "interpolate": "monotone", "stroke": "#333333", "strokeWidth": 0.8, "opacity": 1}, "encoding": {"x": {"field": "l", "type": "quantitative"}, "x2": {"field": "r"}, "color": {"field": "c", "type": "nominal", "scale": {"domain": ["WML", "Peri-lesion", "Contra-lateral NAWM"], "range": ["#F8766D", "#2DB34A", "#6490D6"]}, "title": null}}},
        {"transform": [{"filter": "datum.k == 'w'"}], "mark": {"type": "rule", "color": "#1a1a1a", "strokeWidth": 0.9}, "encoding": {"y2": {"field": "y2"}}},
        {"transform": [{"filter": "datum.k == 'b'"}], "mark": {"type": "bar", "orient": "vertical", "width": 8, "fill": "white", "stroke": "#333333", "strokeWidth": 0.9}, "encoding": {"y2": {"field": "y2"}}},
        {"transform": [{"filter": "datum.k == 'm'"}], "mark": {"type": "tick", "orient": "horizontal", "size": 8, "thickness": 2, "color": "black", "opacity": 1}},
        {"transform": [{"filter": "datum.k == 'o'"}], "mark": {"type": "circle", "size": 14, "color": "#222222", "opacity": 1}},
        {"transform": [{"filter": "datum.k == 'h'"}], "mark": {"type": "rule", "color": "#333333", "strokeWidth": 1}, "encoding": {"x2": {"field": "x2"}}},
        {"transform": [{"filter": "datum.k == 't'"}], "mark": {"type": "rule", "color": "#333333", "strokeWidth": 1}, "encoding": {"y2": {"field": "y2"}}},
        {"transform": [{"filter": "datum.k == 's'"}], "mark": {"type": "text", "fontSize": 20, "fontWeight": "bold", "dy": -4, "baseline": "alphabetic", "font": "Liberation Sans", "color": "black"}, "encoding": {"text": {"field": "lab", "type": "nominal"}}}
      ]
    }
  ]
}
